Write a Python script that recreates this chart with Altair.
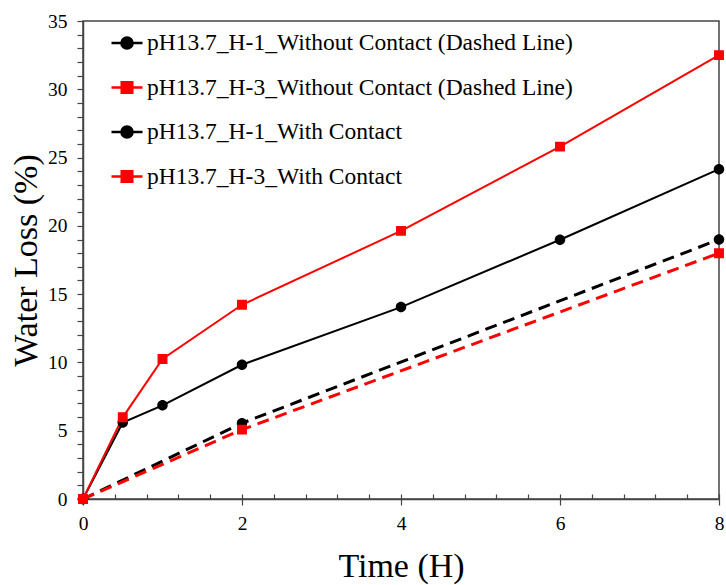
import altair as alt
import pandas as pd

# ---------------- data ----------------
series_names = [
    "pH13.7_H-1_Without Contact (Dashed Line)",
    "pH13.7_H-3_Without Contact (Dashed Line)",
    "pH13.7_H-1_With Contact",
    "pH13.7_H-3_With Contact",
]
time_without = [0, 2, 8]
h1_without = [0, 5.55, 19.0]
h3_without = [0, 5.08, 18.0]

time_with = [0, 0.5, 1, 2, 4, 6, 8]
h1_with = [0, 5.6, 6.86, 9.83, 14.05, 18.98, 24.15]
h3_with = [0, 5.98, 10.25, 14.22, 19.63, 25.8, 32.5]

x_label_ticks = [0, 2, 4, 6, 8]
x_minor_ticks = [0, 0.4, 0.8, 1.2, 1.6, 2, 2.4, 2.8, 3.2, 3.6, 4,
                 4.4, 4.8, 5.2, 5.6, 6, 6.4, 6.8, 7.2, 7.6, 8]
y_ticks = list(range(0, 36))

rows = []
for name, xs, ys, kind in [
    (series_names[0], time_without, h1_without, "dashed"),
    (series_names[1], time_without, h3_without, "dashed"),
    (series_names[2], time_with, h1_with, "solid"),
    (series_names[3], time_with, h3_with, "solid"),
]:
    for xv, yv in zip(xs, ys):
        rows.append({"series": name, "time": xv, "loss": yv, "kind": kind})
df = pd.DataFrame(rows)

# ---------------- style ----------------
FONT = "Liberation Serif"
AX = "#444444"
CIRCLE_PATH = "M-1,0L1,0M0.36,0A0.36,0.36,0,1,1,-0.36,0A0.36,0.36,0,1,1,0.36,0Z"
SQUARE_PATH = "M-1,0L1,0M-0.34,-0.34L0.34,-0.34L0.34,0.34L-0.34,0.34Z"

legend = alt.Legend(
    orient="none", legendX=27, legendY=5, padding=0,
    labelFont=FONT, labelFontSize=23.5, labelColor="black", labelLimit=700,
    labelOffset=3, rowPadding=15.5, symbolSize=961, symbolStrokeWidth=2.5,
    symbolOpacity=1,
)

color_enc = alt.Color(
    "series:N", title=None,
    scale=alt.Scale(domain=series_names, range=["#000000", "#ff0000", "#000000", "#ff0000"]),
    legend=legend,
)

x_scale = alt.Scale(domain=[0, 8], nice=False, zero=False)
y_scale = alt.Scale(domain=[0, 35], nice=False)

x_bottom = alt.Axis(
    orient="bottom", values=x_label_ticks, format="d", grid=False,
    title="Time (H)", titleFont=FONT, titleFontSize=34, titleFontWeight="normal",
    titleColor="black", titlePadding=17,
    labelFont=FONT, labelFontSize=19.5, labelColor="black", labelPadding=9, labelFlush=False,
    tickSize=6, tickColor=AX, tickWidth=1.2, domainColor=AX, domainWidth=1.5,
)
x_top_inner = alt.Axis(
    orient="top", offset=-478, values=x_minor_ticks, labels=False, domain=False,
    grid=False, title=None, tickSize=5, tickColor=AX, tickWidth=1.2,
)
y_axis = alt.Axis(
    orient="left", values=y_ticks, labelExpr="datum.value % 5 === 0 ? datum.label : ''",
    grid=False, labelOverlap=False, labelFlush=False,
    title="Water Loss (%)", titleFont=FONT, titleFontSize=34, titleFontWeight="normal",
    titleColor="black", titlePadding=4,
    labelFont=FONT, labelFontSize=19.5, labelColor="black", labelPadding=10,
    tickSize=6, tickColor=AX, tickWidth=1.2, domainColor=AX, domainWidth=1.5,
)

base = alt.Chart(df)

dashed = base.transform_filter("datum.kind == 'dashed'").mark_line(
    strokeWidth=3, strokeDash=[12, 7]
).encode(
    x=alt.X("time:Q", scale=x_scale, axis=None),
    y=alt.Y("loss:Q", scale=y_scale, axis=y_axis),
    color=color_enc,
    order="time:Q",
)

solid = base.transform_filter("datum.kind == 'solid'").mark_line(
    strokeWidth=2
).encode(
    x=alt.X("time:Q", scale=x_scale, axis=x_bottom),
    y=alt.Y("loss:Q", scale=y_scale, axis=y_axis),
    color=color_enc,
    order="time:Q",
)

points = base.mark_point(filled=True, opacity=1, size=851, strokeWidth=0).encode(
    x=alt.X("time:Q", scale=x_scale, axis=x_top_inner),
    y=alt.Y("loss:Q", scale=y_scale, axis=y_axis),
    color=color_enc,
    shape=alt.Shape("series:N", title=None,
                    scale=alt.Scale(domain=series_names,
                                    range=[CIRCLE_PATH, SQUARE_PATH, CIRCLE_PATH, SQUARE_PATH]),
                    legend=legend),
)

chart = alt.layer(dashed, solid, points).resolve_axis(x="independent").properties(
    width=636, height=478,
    padding={"left": 83, "top": 21, "right": 7, "bottom": 86},
    autosize=alt.AutoSizeParams(type="none"),
).configure(font=FONT, background="white").configure_view(stroke=AX, strokeWidth=1.5)

chart.save("out.html", embed_options={"renderer": "svg", "actions": False})
